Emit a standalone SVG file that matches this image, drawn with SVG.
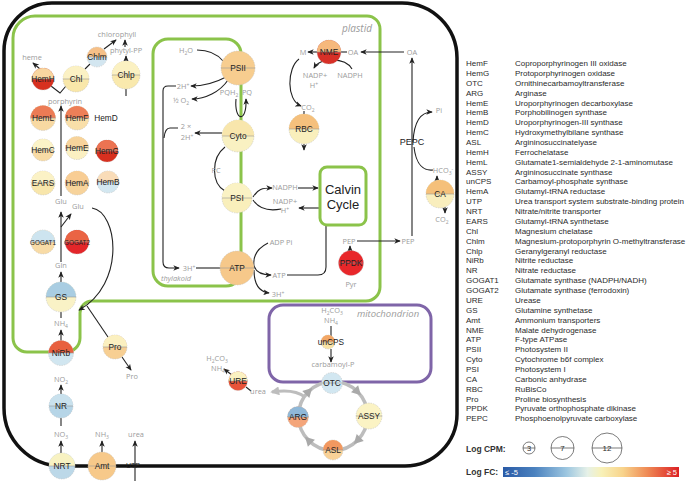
<svg xmlns="http://www.w3.org/2000/svg" width="688" height="483" viewBox="0 0 688 483">
<defs>
<style>
.lbl{font-family:"Liberation Sans",Arial,sans-serif;font-size:8.3px;fill:#222;text-anchor:middle}
.met{font-family:"Open Sans","Liberation Sans",sans-serif;font-size:7.4px;fill:#9b9b9b;text-anchor:middle}
.sub{font-size:5px}
.it{font-style:italic}
.ar{fill:none;stroke:#222;stroke-width:1.1;marker-end:url(#ah)}
.ln{fill:none;stroke:#222;stroke-width:1.1}
.n circle{stroke:#bdbdbd;stroke-width:.5;stroke-dasharray:1.5 1}
.n line{stroke:#999;stroke-width:.6}
.leg{font-family:"Liberation Sans",Arial,sans-serif;font-size:8px;fill:#2b2b2b}
.gr{fill:none;stroke:#8bc34a;stroke-width:3}
.ga{fill:#a9a9a9}
</style>
<marker id="ah" viewBox="0 0 8 8" refX="7" refY="4" markerWidth="6.5" markerHeight="6.5" orient="auto" markerUnits="userSpaceOnUse"><path d="M0,0.6 L8,4 L0,7.4 L2.2,4 Z" fill="#222"/></marker>
<marker id="ahg" viewBox="0 0 10 10" refX="8" refY="5" markerWidth="9" markerHeight="9" orient="auto" markerUnits="userSpaceOnUse"><path d="M0,0 L10,5 L0,10 Z" fill="#bdbdbd"/></marker>
<linearGradient id="fc" x1="0" x2="1" y1="0" y2="0">
<stop offset="0" stop-color="#2a5aa6"/>
<stop offset="0.18" stop-color="#4b82bf"/>
<stop offset="0.36" stop-color="#9cc6e0"/>
<stop offset="0.48" stop-color="#e6f1e8"/>
<stop offset="0.56" stop-color="#f8f1b8"/>
<stop offset="0.68" stop-color="#f8d48c"/>
<stop offset="0.82" stop-color="#ef8a55"/>
<stop offset="1" stop-color="#dc2024"/>
</linearGradient>
</defs>
<rect width="688" height="483" fill="#fff"/>

<!-- compartments -->
<g id="cell"><path d="M52,3 H402 A55,55 0 0 1 457,58 V414 A52,52 0 0 1 405,466 H62 A58,58 0 0 1 4,408 V51 A48,48 0 0 1 52,3 Z" fill="none" stroke="#111" stroke-width="3.5"/></g>
<g id="plastid"><path class="gr" d="M36,16 H367 A13,13 0 0 1 380,29 V287 A14,14 0 0 1 366,301 H92 A12,12 0 0 0 80,313 V338 A14,14 0 0 1 66,352 H27 A14,14 0 0 1 13,338 V38 A22,22 0 0 1 36,16 Z"/>
<text class="met it" x="357" y="32" style="font-size:10px">plastid</text></g>
<g id="thylakoid"><rect class="gr" x="153" y="39" width="88" height="247" rx="15"/>
<text class="met it" x="176" y="281">thylakoid</text></g>
<g id="mitochondrion"><rect x="269" y="305" width="162" height="77" rx="14" fill="none" stroke="#7f65a8" stroke-width="3"/>
<text class="met it" x="388" y="317" style="font-size:9.5px">mitochondrion</text></g>

<!-- connectors -->
<g id="connectors">
<path class="ar" d="M40,69 L33,63"/>
<path class="ln" d="M51,86 L60,93 L66,86"/>
<path class="ln" d="M85,69 L90,64"/>
<path class="ar" d="M104,49 L116,40"/>
<path class="ar" d="M126,61 L126,56"/>
<path class="ar" d="M125,47 L125,40"/>
<path class="ln" d="M126,89 L126,96"/>
<path class="ar" d="M61,196 L61,106"/>
<path class="ar" d="M61,262 L61,212"/>
<path class="ar" d="M61,227 L71,214"/>
<path class="ar" d="M92,208 C118,212 126,284 79,310"/>
<path class="ar" d="M61,282 L61,272"/>
<path class="ln" d="M61,312 L61,318"/>
<path class="ar" d="M61,341 L61,330"/>
<path class="ln" d="M87,306 L108,337"/>
<path class="ar" d="M122,357 L131,370"/>
<path class="ar" d="M61,394 L61,385"/>
<path class="ln" d="M61,418 L61,426"/>
<path class="ar" d="M61,453 L61,441"/>
<path class="ar" d="M102,452 L102,441"/>
<path class="ar" d="M135,481 L135,441"/>
<!-- thylakoid -->
<path class="ln" d="M197,50 C210,50 218,55 223,61"/>
<path class="ar" d="M226,77 C215,83 205,86 191,86"/>
<path class="ar" d="M228,80 C220,92 205,99 192,99"/>
<path class="ar" d="M176,86 H168 Q163,86 163,91 V262 Q163,268 169,268 H179"/>
<path class="ln" d="M178,128 H170 Q165,128 164,138"/>
<path class="ar" d="M222,133 L195,133"/>
<path class="ar" d="M236,99 C234,121 247,124 246,99"/>
<path class="ln" d="M225,147 C211,158 211,183 225,191"/>
<path class="ln" d="M196,268 L221,268"/>
<path class="ar" d="M253,197 C258,189 262,188 272,188"/>
<path class="ar" d="M298,188 L318,188"/>
<path class="ln" d="M281,209 C265,212 257,206 253,200"/>
<path class="ar" d="M319,208 L299,208"/>
<path class="ar" d="M268,243 Q252,251 254,266 Q257,275 271,275"/>
<path class="ar" d="M254,270 Q254,291 269,293"/>
<path class="ln" d="M287,275 H318 Q326,275 326,267 V226"/>
<!-- plastid right -->
<path class="ar" d="M317,52 L308,52"/>
<path class="ln" d="M347,52 L341,52"/>
<path class="ar" d="M404,52 L361,52"/>
<path class="ar" d="M352,69 C345,57 320,57 314,68"/>
<path class="ar" d="M299,59 C287,68 286,100 301,106"/>
<path class="ln" d="M304,111 L304,114"/>
<path class="ar" d="M304,144 L304,150"/>
<path class="ar" d="M412,236 L412,58"/>
<path class="ar" d="M413,142 C414,122 420,112 432,112"/>
<path class="ln" d="M414,147 C416,165 424,171 433,170"/>
<path class="ar" d="M437,181 L437,176"/>
<path class="ar" d="M445,207 L445,213"/>
<path class="ar" d="M357,241 L400,241"/>
<path class="ar" d="M350,251 L350,246"/>
<!-- mitochondrion / urea cycle -->
<path class="ln" d="M331,326 L331,336"/>
<path class="ar" d="M331,349 L331,362"/>
<circle cx="333" cy="416" r="34.5" fill="none" stroke="#bdbdbd" stroke-width="3.5"/>
<path class="ga" d="M5,0 L-4,-5 L-4,5 Z" transform="translate(357.4,391.6) rotate(45)"/>
<path class="ga" d="M5,0 L-4,-5 L-4,5 Z" transform="translate(357.4,440.4) rotate(135)"/>
<path class="ga" d="M5,0 L-4,-5 L-4,5 Z" transform="translate(308.6,440.4) rotate(225)"/>
<path class="ga" d="M5,0 L-4,-5 L-4,5 Z" transform="translate(308.6,391.6) rotate(315)"/>
<path d="M305,397 C296,390 284,390 272,392" fill="none" stroke="#bdbdbd" stroke-width="3" marker-end="url(#ahg)"/>
<path class="ln" d="M251,391 L246,387"/>
<path class="ar" d="M232,375 L224,369"/>
</g>

<!-- metabolite labels -->
<g id="metabolites">
<text class="met" x="117" y="37">chlorophyll</text>
<text class="met" x="126" y="53">phytyl-PP</text>
<text class="met" x="32" y="60">heme</text>
<text class="met" x="65" y="104">porphyrin</text>
<text class="met" x="61" y="204">Glu</text>
<text class="met" x="78" y="209">Glu</text>
<text class="met" x="61" y="268">Gln</text>
<text class="met" x="61" y="326">NH<tspan class="sub" dy="1.5">4</tspan></text>
<text class="met" x="132" y="379">Pro</text>
<text class="met" x="61" y="382">NO<tspan class="sub" dy="1.5">2</tspan></text>
<text class="met" x="61" y="437">NO<tspan class="sub" dy="1.5">3</tspan></text>
<text class="met" x="102" y="437">NH<tspan class="sub" dy="1.5">3</tspan></text>
<text class="met" x="136" y="437">urea</text>
<text class="met" x="186" y="53">H<tspan class="sub" dy="1.5">2</tspan><tspan dy="-1.5">O</tspan></text>
<text class="met" x="183" y="89">2H<tspan class="sub" dy="-2.5">+</tspan></text>
<text class="met" x="181" y="103">½ O<tspan class="sub" dy="1.5">2</tspan></text>
<text class="met" x="229" y="95">PQH<tspan class="sub" dy="1.5">2</tspan></text>
<text class="met" x="247" y="95">PQ</text>
<text class="met" x="186" y="129">2 ×</text>
<text class="met" x="187" y="140">2H<tspan class="sub" dy="-2.5">+</tspan></text>
<text class="met" x="216" y="173">PC</text>
<text class="met" x="189" y="271">3H<tspan class="sub" dy="-2.5">+</tspan></text>
<text class="met" x="285" y="190">NADPH</text>
<text class="met" x="285" y="204">NADP+</text>
<text class="met" x="285" y="213">H<tspan class="sub" dy="-2.5">+</tspan></text>
<text class="met" x="281" y="245">ADP Pi</text>
<text class="met" x="279" y="278">ATP</text>
<text class="met" x="278" y="297">3H<tspan class="sub" dy="-2.5">+</tspan></text>
<text class="met" x="303" y="55">M</text>
<text class="met" x="353" y="55">OA</text>
<text class="met" x="412" y="55">OA</text>
<text class="met" x="315" y="78">NADP+</text>
<text class="met" x="314" y="88">H<tspan class="sub" dy="-2.5">+</tspan></text>
<text class="met" x="350" y="78">NADPH</text>
<text class="met" x="308" y="110">CO<tspan class="sub" dy="1.5">2</tspan></text>
<text class="met" x="439" y="113">Pi</text>
<text class="met" x="443" y="173">HCO<tspan class="sub" dy="1.5">3</tspan><tspan class="sub" dy="-4">-</tspan></text>
<text class="met" x="442" y="222">CO<tspan class="sub" dy="1.5">2</tspan></text>
<text class="met" x="349" y="244">PEP</text>
<text class="met" x="408" y="244">PEP</text>
<text class="met" x="351" y="287">Pyr</text>
<text class="met" x="332" y="313">H<tspan class="sub" dy="1.5">2</tspan><tspan dy="-1.5">CO</tspan><tspan class="sub" dy="1.5">3</tspan></text>
<text class="met" x="331" y="323">NH<tspan class="sub" dy="1.5">4</tspan></text>
<text class="met" x="333" y="367">carbamoyl-P</text>
<text class="met" x="258" y="394">urea</text>
<text class="met" x="217" y="361">H<tspan class="sub" dy="1.5">2</tspan><tspan dy="-1.5">CO</tspan><tspan class="sub" dy="1.5">3</tspan></text>
<text class="met" x="218" y="371">NH<tspan class="sub" dy="1.5">4</tspan></text>
</g>

<!-- nodes -->
<g id="HemH" class="n" transform="translate(43,79)"><circle r="11" fill="#d7301f"/><path d="M-11,0A11,11 0 0 1 11,0Z" fill="#f8d6a0"/><line x1="-11" x2="11"/><text class="lbl" y="3">HemH</text></g>
<g id="Chl" class="n" transform="translate(76,79)"><circle r="13" fill="#f9e7a9"/><path d="M-13,0A13,13 0 0 1 13,0Z" fill="#fbf1c4"/><line x1="-13" x2="13"/><text class="lbl" y="3">Chl</text></g>
<g id="Chlm" class="n" transform="translate(97,57)"><circle r="10" fill="#d3e6f0"/><path d="M-10,0A10,10 0 0 1 10,0Z" fill="#f6c088"/><line x1="-10" x2="10"/><text class="lbl" y="3">Chlm</text></g>
<g id="Chlp" class="n" transform="translate(126,75)"><circle r="14" fill="#f9e9ad"/><path d="M-14,0A14,14 0 0 1 14,0Z" fill="#fbf1c2"/><line x1="-14" x2="14"/><text class="lbl" y="3">Chlp</text></g>
<g id="HemL" class="n" transform="translate(43,118)"><circle r="12.5" fill="#f8d9a2"/><path d="M-12.5,0A12.5,12.5 0 0 1 12.5,0Z" fill="#ec7b55"/><line x1="-12.5" x2="12.5"/><text class="lbl" y="3">HemL</text></g>
<g id="HemF" class="n" transform="translate(77,118)"><circle r="12" fill="#f9dfa9"/><path d="M-12,0A12,12 0 0 1 12,0Z" fill="#ed7f58"/><line x1="-12" x2="12"/><text class="lbl" y="3">HemF</text></g>
<g id="HemD"><text class="lbl" x="106" y="121">HemD</text></g>
<g id="HemC" class="n" transform="translate(43,150)"><circle r="11" fill="#f8dba5"/><path d="M-11,0A11,11 0 0 1 11,0Z" fill="#fbf3c8"/><line x1="-11" x2="11"/><text class="lbl" y="3">HemC</text></g>
<g id="HemE" class="n" transform="translate(77,148)"><circle r="11.5" fill="#fbf0c2"/><path d="M-11.5,0A11.5,11.5 0 0 1 11.5,0Z" fill="#f7d39b"/><line x1="-11.5" x2="11.5"/><text class="lbl" y="3">HemE</text></g>
<g id="HemG" class="n" transform="translate(107,151)"><circle r="11" fill="#d7301f"/><path d="M-11,0A11,11 0 0 1 11,0Z" fill="#ec7352"/><line x1="-11" x2="11"/><text class="lbl" y="3">HemG</text></g>
<g id="EARS" class="n" transform="translate(43,183)"><circle r="12" fill="#f8e6ab"/><path d="M-12,0A12,12 0 0 1 12,0Z" fill="#fbf2c6"/><line x1="-12" x2="12"/><text class="lbl" y="3">EARS</text></g>
<g id="HemA" class="n" transform="translate(77,183)"><circle r="12" fill="#f7d39b"/><path d="M-12,0A12,12 0 0 1 12,0Z" fill="#f8cd94"/><line x1="-12" x2="12"/><text class="lbl" y="3">HemA</text></g>
<g id="HemB" class="n" transform="translate(108,182)"><circle r="11" fill="#d3e7f0"/><path d="M-11,0A11,11 0 0 1 11,0Z" fill="#f9dcb8"/><line x1="-11" x2="11"/><text class="lbl" y="3">HemB</text></g>
<g id="GOGAT1" class="n" transform="translate(43,242)"><circle r="12" fill="#f8dba6"/><path d="M-12,0A12,12 0 0 1 12,0Z" fill="#cde4ef"/><line x1="-12" x2="12"/><text class="lbl" y="2.5" style="font-size:6.3px">GOGAT1</text></g>
<g id="GOGAT2" class="n" transform="translate(77,242)"><circle r="12" fill="#e3262a"/><path d="M-12,0A12,12 0 0 1 12,0Z" fill="#ea6444"/><line x1="-12" x2="12"/><text class="lbl" y="2.5" style="font-size:6.3px">GOGAT2</text></g>
<g id="GS" class="n" transform="translate(61,297)"><circle r="15" fill="#f9f2c6"/><path d="M-15,0A15,15 0 0 1 15,0Z" fill="#a9cde2"/><line x1="-15" x2="15"/><text class="lbl" y="3">GS</text></g>
<g id="NiRb" class="n" transform="translate(61,353)"><circle r="12.5" fill="#d1e6f0"/><path d="M-12.5,0A12.5,12.5 0 0 1 12.5,0Z" fill="#e8603f"/><line x1="-12.5" x2="12.5"/><text class="lbl" y="3">NiRb</text></g>
<g id="Pro" class="n" transform="translate(115,347)"><circle r="12" fill="#f7cf93"/><path d="M-12,0A12,12 0 0 1 12,0Z" fill="#fbf0c0"/><line x1="-12" x2="12"/><text class="lbl" y="3">Pro</text></g>
<g id="NR" class="n" transform="translate(61,406)"><circle r="12" fill="#b6d5e7"/><path d="M-12,0A12,12 0 0 1 12,0Z" fill="#c9e1ed"/><line x1="-12" x2="12"/><text class="lbl" y="3">NR</text></g>
<g id="NRT" class="n" transform="translate(62,466)"><circle r="13" fill="#bcd8e8"/><path d="M-13,0A13,13 0 0 1 13,0Z" fill="#f8f2c2"/><line x1="-13" x2="13"/><text class="lbl" y="3">NRT</text></g>
<g id="Amt" class="n" transform="translate(102,466)"><circle r="14" fill="#f7c98a"/><line x1="-14" x2="14"/><text class="lbl" y="3">Amt</text></g>
<g id="UTP"><text class="lbl" x="133" y="468" style="font-size:7px">UTP</text></g>
<g id="PSII" class="n" transform="translate(238,68)"><circle r="17" fill="#f7cd8f"/><line x1="-17" x2="17"/><text class="lbl" y="3">PSII</text></g>
<g id="Cyto" class="n" transform="translate(238,136)"><circle r="16" fill="#f9f1c2"/><path d="M-16,0A16,16 0 0 1 16,0Z" fill="#f8e6ac"/><line x1="-16" x2="16"/><text class="lbl" y="3">Cyto</text></g>
<g id="PSI" class="n" transform="translate(237,198)"><circle r="15" fill="#f9efbb"/><path d="M-15,0A15,15 0 0 1 15,0Z" fill="#faf2c4"/><line x1="-15" x2="15"/><text class="lbl" y="3">PSI</text></g>
<g id="ATP" class="n" transform="translate(237,268)"><circle r="17" fill="#f6c88a"/><line x1="-17" x2="17"/><text class="lbl" y="3">ATP</text></g>
<g id="Calvin"><rect x="320" y="167" width="46" height="58" rx="7" fill="#fff" stroke="#8bc34a" stroke-width="3"/><text class="lbl" x="343" y="194" style="font-size:13px">Calvin</text><text class="lbl" x="343" y="209" style="font-size:13px">Cycle</text></g>
<g id="NME" class="n" transform="translate(329,52)"><circle r="12" fill="#d73027"/><path d="M-12,0A12,12 0 0 1 12,0Z" fill="#f6b87c"/><line x1="-12" x2="12"/><text class="lbl" y="3">NME</text></g>
<g id="RBC" class="n" transform="translate(304,129)"><circle r="15" fill="#f9efbc"/><path d="M-15,0A15,15 0 0 1 15,0Z" fill="#f5c07d"/><line x1="-15" x2="15"/><text class="lbl" y="3">RBC</text></g>
<g id="PEPC"><text class="lbl" x="412" y="145" style="font-size:9px">PEPC</text></g>
<g id="CA" class="n" transform="translate(440,194)"><circle r="14" fill="#f9eebd"/><path d="M-14,0A14,14 0 0 1 14,0Z" fill="#f5c07a"/><line x1="-14" x2="14"/><text class="lbl" y="3">CA</text></g>
<g id="PPDK" class="n" transform="translate(351,263)"><circle r="12.5" fill="#e8272a"/><line x1="-12.5" x2="12.5"/><text class="lbl" y="3">PPDK</text></g>
<g id="unCPS" class="n" transform="translate(328,342)"><circle r="7" fill="#f9e3a6"/><path d="M-7,0A7,7 0 0 1 7,0Z" fill="#f3a766"/><line x1="-7" x2="7"/><text class="lbl" x="3" y="3">unCPS</text></g>
<g id="OTC" class="n" transform="translate(332,383)"><circle r="10.5" fill="#d2e7f1"/><line x1="-10.5" x2="10.5"/><text class="lbl" y="3">OTC</text></g>
<g id="ASSY" class="n" transform="translate(369,416)"><circle r="13" fill="#fbf3c4"/><line x1="-13" x2="13"/><text class="lbl" y="3">ASSY</text></g>
<g id="ASL" class="n" transform="translate(333,450)"><circle r="10" fill="#f8d197"/><path d="M-10,0A10,10 0 0 1 10,0Z" fill="#f29860"/><line x1="-10" x2="10"/><text class="lbl" y="3">ASL</text></g>
<g id="ARG" class="n" transform="translate(298,417)"><circle r="10.5" fill="#f4a57a"/><path d="M-10.5,0A10.5,10.5 0 0 1 10.5,0Z" fill="#8fb8d8"/><line x1="-10.5" x2="10.5"/><text class="lbl" y="3">ARG</text></g>
<g id="URE" class="n" transform="translate(238,381)"><circle r="9.5" fill="#e8533a"/><path d="M-9.5,0A9.5,9.5 0 0 1 9.5,0Z" fill="#fbf2c2"/><line x1="-9.5" x2="9.5"/><text class="lbl" y="3">URE</text></g>

<!-- legend -->
<g id="legend" class="leg">
<text x="466" y="66">HemF</text><text x="515" y="66">Coproporphyrinogen III oxidase</text>
<text x="466" y="75.9">HemG</text><text x="515" y="75.9">Protoporphyrinogen oxidase</text>
<text x="466" y="85.7">OTC</text><text x="515" y="85.7">Ornithinecarbamoyltransferase</text>
<text x="466" y="95.6">ARG</text><text x="515" y="95.6">Arginase</text>
<text x="466" y="105.5">HemE</text><text x="515" y="105.5">Uroporphyrinogen decarboxylase</text>
<text x="466" y="115.4">HemB</text><text x="515" y="115.4">Porphobilinogen synthase</text>
<text x="466" y="125.2">HemD</text><text x="515" y="125.2">Uroporphyrinogen-III synthase</text>
<text x="466" y="135.1">HemC</text><text x="515" y="135.1">Hydroxymethylbilane synthase</text>
<text x="466" y="145">ASL</text><text x="515" y="145">Argininosuccinatelyase</text>
<text x="466" y="154.8">HemH</text><text x="515" y="154.8">Ferrochelatase</text>
<text x="466" y="164.7">HemL</text><text x="515" y="164.7">Glutamate1-semialdehyde 2-1-aminomutase</text>
<text x="466" y="174.6">ASSY</text><text x="515" y="174.6">Argininosuccinate  synthase</text>
<text x="466" y="184.4">unCPS</text><text x="515" y="184.4">Carbamoyl-phosphate synthase</text>
<text x="466" y="194.3">HemA</text><text x="515" y="194.3">Glutamyl-tRNA reductase</text>
<text x="466" y="204.2">UTP</text><text x="515" y="204.2">Urea transport system substrate-binding protein</text>
<text x="466" y="214">NRT</text><text x="515" y="214">Nitrate/nitrite transporter</text>
<text x="466" y="223.9">EARS</text><text x="515" y="223.9">Glutamyl-tRNA synthetase</text>
<text x="466" y="233.8">Chl</text><text x="515" y="233.8">Magnesium chelatase</text>
<text x="466" y="243.7">Chlm</text><text x="515" y="243.7">Magnesium-protoporphyrin O-methyltransferase</text>
<text x="466" y="253.5">Chlp</text><text x="515" y="253.5">Geranylgeranyl reductase</text>
<text x="466" y="263.4">NiRb</text><text x="515" y="263.4">Nitrite reductase</text>
<text x="466" y="273.3">NR</text><text x="515" y="273.3">Nitrate reductase</text>
<text x="466" y="283.1">GOGAT1</text><text x="515" y="283.1">Glutamate synthase (NADPH/NADH)</text>
<text x="466" y="293">GOGAT2</text><text x="515" y="293">Glutamate synthase (ferrodoxin)</text>
<text x="466" y="302.9">URE</text><text x="515" y="302.9">Urease</text>
<text x="466" y="312.7">GS</text><text x="515" y="312.7">Glutamine synthetase</text>
<text x="466" y="322.6">Amt</text><text x="515" y="322.6">Ammonium transporters</text>
<text x="466" y="332.5">NME</text><text x="515" y="332.5">Malate dehydrogenase</text>
<text x="466" y="342.4">ATP</text><text x="515" y="342.4">F-type ATPase</text>
<text x="466" y="352.2">PSII</text><text x="515" y="352.2">Photosystem II</text>
<text x="466" y="362.1">Cyto</text><text x="515" y="362.1">Cytochrome b6f complex</text>
<text x="466" y="372">PSI</text><text x="515" y="372">Photosystem I</text>
<text x="466" y="381.8">CA</text><text x="515" y="381.8">Carbonic anhydrase</text>
<text x="466" y="391.7">RBC</text><text x="515" y="391.7">RuBisCo</text>
<text x="466" y="401.6">Pro</text><text x="515" y="401.6">Proline biosynthesis</text>
<text x="466" y="411.4">PPDK</text><text x="515" y="411.4">Pyruvate orthophosphate dikinase</text>
<text x="466" y="421.3">PEPC</text><text x="515" y="421.3">Phosphoenolpyruvate carboxylase</text>
<text x="466" y="452" style="font-weight:bold;font-size:8.5px;fill:#333">Log CPM:</text>
<g fill="none" stroke="#444" stroke-width="0.7">
<circle cx="529" cy="448" r="6"/><line x1="523" y1="448" x2="535" y2="448"/>
<circle cx="562.5" cy="448" r="11.5"/><line x1="551" y1="448" x2="574" y2="448"/>
<circle cx="607" cy="448" r="15"/><line x1="592" y1="448" x2="622" y2="448"/>
</g>
<text x="529" y="451" text-anchor="middle" style="font-size:7.5px">3</text>
<text x="562.5" y="451" text-anchor="middle">7</text>
<text x="607" y="451" text-anchor="middle">12</text>
<text x="466" y="475" style="font-weight:bold;font-size:8.5px;fill:#333">Log FC:</text>
<rect x="503" y="467" width="176" height="10" fill="url(#fc)"/>
<text x="505" y="475" style="fill:#fff;font-size:7.5px">≤ -5</text>
<text x="677" y="475" text-anchor="end" style="fill:#fff;font-size:7.5px">≥ 5</text>
</g>
</svg>
